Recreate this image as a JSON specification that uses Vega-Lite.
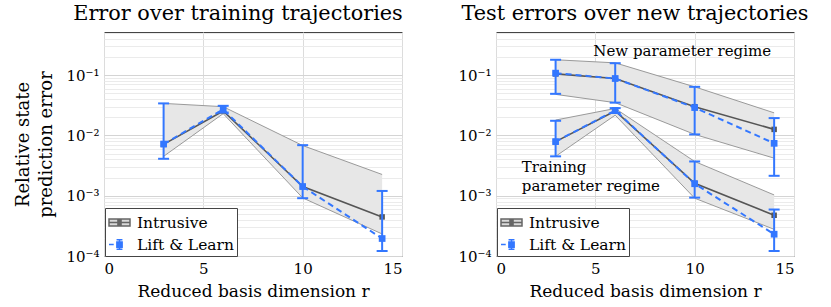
{
  "$schema": "https://vega.github.io/schema/vega-lite/v6.json",
  "padding": {"left": 14, "top": 2, "right": 0, "bottom": 0},
  "config": {
    "font": "DejaVu Serif",
    "view": {"stroke": "#444", "strokeWidth": 1},
    "axis": {"labelFont": "DejaVu Serif", "titleFont": "DejaVu Serif", "labelFontSize": 15, "labelColor": "#000", "titleFontSize": 17, "titleFontWeight": "normal", "titleColor": "#000", "domain": false, "ticks": false},
    "title": {"font": "DejaVu Serif", "fontSize": 20.8, "fontWeight": "normal", "color": "#000", "offset": 7},
    "legend": {"labelFont": "DejaVu Serif", "labelFontSize": 15.5, "labelColor": "#000", "strokeColor": "#444", "fillColor": "#fff", "padding": 3, "rowPadding": 2, "symbolSize": 441, "symbolStrokeWidth": 1.5, "labelOffset": 6, "cornerRadius": 0}
  },
  "datasets": {
    "train": [
      {"regime": "train", "r": 3, "intrusive": 0.0071, "band_lo": 0.0045, "band_hi": 0.034, "ll": 0.0072, "ll_lo": 0.0041, "ll_hi": 0.034},
      {"regime": "train", "r": 6, "intrusive": 0.0255, "band_lo": 0.023, "band_hi": 0.030, "ll": 0.027, "ll_lo": 0.024, "ll_hi": 0.031},
      {"regime": "train", "r": 10, "intrusive": 0.00142, "band_lo": 0.00092, "band_hi": 0.0068, "ll": 0.00142, "ll_lo": 0.00091, "ll_hi": 0.0069},
      {"regime": "train", "r": 14, "intrusive": 0.000445, "band_lo": 0.000232, "band_hi": 0.00225, "ll": 0.000195, "ll_lo": 0.000121, "ll_hi": 0.0012}
    ],
    "test": [
      {"regime": "new", "r": 3, "intrusive": 0.105, "band_lo": 0.048, "band_hi": 0.18, "ll": 0.108, "ll_lo": 0.049, "ll_hi": 0.18},
      {"regime": "new", "r": 6, "intrusive": 0.088, "band_lo": 0.035, "band_hi": 0.16, "ll": 0.088, "ll_lo": 0.035, "ll_hi": 0.158},
      {"regime": "new", "r": 10, "intrusive": 0.030, "band_lo": 0.0104, "band_hi": 0.064, "ll": 0.029, "ll_lo": 0.0104, "ll_hi": 0.064},
      {"regime": "new", "r": 14, "intrusive": 0.0126, "band_lo": 0.0042, "band_hi": 0.0237, "ll": 0.0074, "ll_lo": 0.00214, "ll_hi": 0.0194},
      {"regime": "train", "r": 3, "intrusive": 0.0079, "band_lo": 0.0045, "band_hi": 0.018, "ll": 0.0079, "ll_lo": 0.0045, "ll_hi": 0.0175},
      {"regime": "train", "r": 6, "intrusive": 0.0255, "band_lo": 0.0217, "band_hi": 0.028, "ll": 0.026, "ll_lo": 0.0236, "ll_hi": 0.0284},
      {"regime": "train", "r": 10, "intrusive": 0.00161, "band_lo": 0.00091, "band_hi": 0.0037, "ll": 0.00158, "ll_lo": 0.00093, "ll_hi": 0.0037},
      {"regime": "train", "r": 14, "intrusive": 0.000474, "band_lo": 0.000277, "band_hi": 0.00103, "ll": 0.00023, "ll_lo": 0.000121, "ll_hi": 0.00059}
    ],
    "labels": [
      {"label": "New parameter regime", "r": 4.9, "err": 0.25},
      {"label": "Training", "r": 1.3, "err": 0.003},
      {"label": "parameter regime", "r": 1.3, "err": 0.00146}
    ]
  },
  "hconcat": [
    {
      "width": 298, "height": 224,
      "title": {"text": "Error over training trajectories", "dx": -15},
      "layer": [
        {"data": {"name": "train"}, "mark": {"type": "area", "color": "#e7e7e7", "opacity": 1},
         "encoding": {
           "x": {"field": "r", "type": "quantitative", "scale": {"domain": [0, 15], "nice": false}, "axis": {"values": [0, 5, 10, 15], "title": "Reduced basis dimension r", "gridColor": "#dcdcdc", "labelPadding": 5, "titlePadding": 7}},
           "y": {"field": "band_lo", "type": "quantitative", "scale": {"type": "log", "domain": [0.0001, 0.52], "nice": false},
                 "axis": {"title": ["Relative state", "prediction error"], "titleFontSize": 18, "titlePadding": 10, "titleLineHeight": 23, "labelPadding": 5,
                          "values": [0.0001,0.0002,0.0003,0.0004,0.0005,0.0006,0.0007,0.0008,0.0009,0.001,0.002,0.003,0.004,0.005,0.006,0.007,0.008,0.009,0.01,0.02,0.03,0.04,0.05,0.06,0.07,0.08,0.09,0.1,0.2,0.3,0.4,0.5],
                          "labelExpr": "abs(log(datum.value)/LN10 - round(log(datum.value)/LN10)) < 0.000001 ? (round(log(datum.value)/LN10) == -1 ? '10⁻¹' : round(log(datum.value)/LN10) == -2 ? '10⁻²' : round(log(datum.value)/LN10) == -3 ? '10⁻³' : '10⁻⁴') : ''",
                          "gridColor": {"condition": {"test": "abs(log(datum.value)/LN10 - round(log(datum.value)/LN10)) < 0.000001", "value": "#d4d4d4"}, "value": "#ebebeb"}}},
           "y2": {"field": "band_hi"},
           "detail": {"field": "regime"}
         }},
        {"data": {"name": "train"}, "mark": {"type": "line", "color": "#9a9a9a", "strokeWidth": 1},
         "encoding": {"x": {"field": "r", "type": "quantitative"}, "y": {"field": "band_hi", "type": "quantitative"}, "detail": {"field": "regime"}}},
        {"data": {"name": "train"}, "mark": {"type": "line", "color": "#9a9a9a", "strokeWidth": 1},
         "encoding": {"x": {"field": "r", "type": "quantitative"}, "y": {"field": "band_lo", "type": "quantitative"}, "detail": {"field": "regime"}}},
        {"data": {"name": "train"}, "mark": {"type": "line", "color": "#555", "strokeWidth": 1.6, "point": {"shape": "square", "size": 30, "filled": true, "color": "#555", "opacity": 1}},
         "encoding": {"x": {"field": "r", "type": "quantitative"}, "y": {"field": "intrusive", "type": "quantitative"}, "detail": {"field": "regime"}}},
        {"data": {"name": "train"}, "mark": {"type": "rule", "color": "#3377ff", "strokeWidth": 2},
         "encoding": {"x": {"field": "r", "type": "quantitative"}, "y": {"field": "ll_lo", "type": "quantitative"}, "y2": {"field": "ll_hi"}}},
        {"data": {"name": "train"}, "mark": {"type": "tick", "orient": "horizontal", "color": "#3377ff", "size": 11, "thickness": 2, "opacity": 1},
         "encoding": {"x": {"field": "r", "type": "quantitative"}, "y": {"field": "ll_lo", "type": "quantitative"}}},
        {"data": {"name": "train"}, "mark": {"type": "tick", "orient": "horizontal", "color": "#3377ff", "size": 11, "thickness": 2, "opacity": 1},
         "encoding": {"x": {"field": "r", "type": "quantitative"}, "y": {"field": "ll_hi", "type": "quantitative"}}},
        {"data": {"name": "train"}, "mark": {"type": "line", "color": "#3377ff", "strokeWidth": 2, "strokeDash": [6, 4], "point": {"shape": "square", "size": 45, "filled": true, "color": "#3377ff", "opacity": 1}},
         "encoding": {"x": {"field": "r", "type": "quantitative"}, "y": {"field": "ll", "type": "quantitative"}, "detail": {"field": "regime"}}},
        {"data": {"values": []}, "mark": {"type": "point", "opacity": 1, "filled": true, "strokeWidth": 1.5},
         "encoding": {
           "shape": {"field": "method", "type": "nominal", "scale": {"domain": ["Intrusive", "Lift & Learn"], "range": ["M-1,-0.33H1V0.33H-1ZM-1,0H1M-0.22,-0.2H0.22M-0.22,-0.1H0.22M-0.22,0H0.22M-0.22,0.1H0.22M-0.22,0.2H0.22", "M-1,0H-0.55M-0.25,0H0.25M0,-0.45V0.45M-0.28,-0.45H0.28M-0.28,0.45H0.28M-0.25,-0.25H0.25V0.25H-0.25Z"]},
                     "legend": {"title": null, "orient": "none", "legendX": 1, "legendY": 176}},
           "fill": {"field": "method", "type": "nominal", "scale": {"domain": ["Intrusive", "Lift & Learn"], "range": ["#dadada", "#3377ff"]}},
           "stroke": {"field": "method", "type": "nominal", "scale": {"domain": ["Intrusive", "Lift & Learn"], "range": ["#666666", "#3377ff"]}}
         }}
      ]
    },
    {
      "width": 298, "height": 224,
      "title": {"text": "Test errors over new trajectories", "dx": -10},
      "layer": [
        {"data": {"name": "test"}, "mark": {"type": "area", "color": "#e7e7e7", "opacity": 1},
         "encoding": {
           "x": {"field": "r", "type": "quantitative", "scale": {"domain": [0, 15], "nice": false}, "axis": {"values": [0, 5, 10, 15], "title": "Reduced basis dimension r", "gridColor": "#dcdcdc", "labelPadding": 5, "titlePadding": 7}},
           "y": {"field": "band_lo", "type": "quantitative", "scale": {"type": "log", "domain": [0.0001, 0.52], "nice": false},
                 "axis": {"title": null, "labelPadding": 5,
                          "values": [0.0001,0.0002,0.0003,0.0004,0.0005,0.0006,0.0007,0.0008,0.0009,0.001,0.002,0.003,0.004,0.005,0.006,0.007,0.008,0.009,0.01,0.02,0.03,0.04,0.05,0.06,0.07,0.08,0.09,0.1,0.2,0.3,0.4,0.5],
                          "labelExpr": "abs(log(datum.value)/LN10 - round(log(datum.value)/LN10)) < 0.000001 ? (round(log(datum.value)/LN10) == -1 ? '10⁻¹' : round(log(datum.value)/LN10) == -2 ? '10⁻²' : round(log(datum.value)/LN10) == -3 ? '10⁻³' : '10⁻⁴') : ''",
                          "gridColor": {"condition": {"test": "abs(log(datum.value)/LN10 - round(log(datum.value)/LN10)) < 0.000001", "value": "#d4d4d4"}, "value": "#ebebeb"}}},
           "y2": {"field": "band_hi"},
           "detail": {"field": "regime"}
         }},
        {"data": {"name": "test"}, "mark": {"type": "line", "color": "#9a9a9a", "strokeWidth": 1},
         "encoding": {"x": {"field": "r", "type": "quantitative"}, "y": {"field": "band_hi", "type": "quantitative"}, "detail": {"field": "regime"}}},
        {"data": {"name": "test"}, "mark": {"type": "line", "color": "#9a9a9a", "strokeWidth": 1},
         "encoding": {"x": {"field": "r", "type": "quantitative"}, "y": {"field": "band_lo", "type": "quantitative"}, "detail": {"field": "regime"}}},
        {"data": {"name": "test"}, "mark": {"type": "line", "color": "#555", "strokeWidth": 1.6, "point": {"shape": "square", "size": 30, "filled": true, "color": "#555", "opacity": 1}},
         "encoding": {"x": {"field": "r", "type": "quantitative"}, "y": {"field": "intrusive", "type": "quantitative"}, "detail": {"field": "regime"}}},
        {"data": {"name": "test"}, "mark": {"type": "rule", "color": "#3377ff", "strokeWidth": 2},
         "encoding": {"x": {"field": "r", "type": "quantitative"}, "y": {"field": "ll_lo", "type": "quantitative"}, "y2": {"field": "ll_hi"}}},
        {"data": {"name": "test"}, "mark": {"type": "tick", "orient": "horizontal", "color": "#3377ff", "size": 11, "thickness": 2, "opacity": 1},
         "encoding": {"x": {"field": "r", "type": "quantitative"}, "y": {"field": "ll_lo", "type": "quantitative"}}},
        {"data": {"name": "test"}, "mark": {"type": "tick", "orient": "horizontal", "color": "#3377ff", "size": 11, "thickness": 2, "opacity": 1},
         "encoding": {"x": {"field": "r", "type": "quantitative"}, "y": {"field": "ll_hi", "type": "quantitative"}}},
        {"data": {"name": "test"}, "mark": {"type": "line", "color": "#3377ff", "strokeWidth": 2, "strokeDash": [6, 4], "point": {"shape": "square", "size": 45, "filled": true, "color": "#3377ff", "opacity": 1}},
         "encoding": {"x": {"field": "r", "type": "quantitative"}, "y": {"field": "ll", "type": "quantitative"}, "detail": {"field": "regime"}}},
        {"data": {"name": "labels"}, "mark": {"type": "text", "font": "DejaVu Serif", "fontSize": 15, "color": "#000", "baseline": "middle", "align": "left"},
         "encoding": {"x": {"field": "r", "type": "quantitative"}, "y": {"field": "err", "type": "quantitative"}, "text": {"field": "label"}}},
        {"data": {"values": []}, "mark": {"type": "point", "opacity": 1, "filled": true, "strokeWidth": 1.5},
         "encoding": {
           "shape": {"field": "method", "type": "nominal", "scale": {"domain": ["Intrusive", "Lift & Learn"], "range": ["M-1,-0.33H1V0.33H-1ZM-1,0H1M-0.22,-0.2H0.22M-0.22,-0.1H0.22M-0.22,0H0.22M-0.22,0.1H0.22M-0.22,0.2H0.22", "M-1,0H-0.55M-0.25,0H0.25M0,-0.45V0.45M-0.28,-0.45H0.28M-0.28,0.45H0.28M-0.25,-0.25H0.25V0.25H-0.25Z"]},
                     "legend": {"title": null, "orient": "none", "legendX": 1, "legendY": 176}},
           "fill": {"field": "method", "type": "nominal", "scale": {"domain": ["Intrusive", "Lift & Learn"], "range": ["#dadada", "#3377ff"]}},
           "stroke": {"field": "method", "type": "nominal", "scale": {"domain": ["Intrusive", "Lift & Learn"], "range": ["#666666", "#3377ff"]}}
         }}
      ]
    }
  ],
  "spacing": 53,
  "resolve": {"scale": {"shape": "independent", "fill": "independent", "stroke": "independent"}, "legend": {"shape": "independent", "fill": "independent", "stroke": "independent"}}
}
